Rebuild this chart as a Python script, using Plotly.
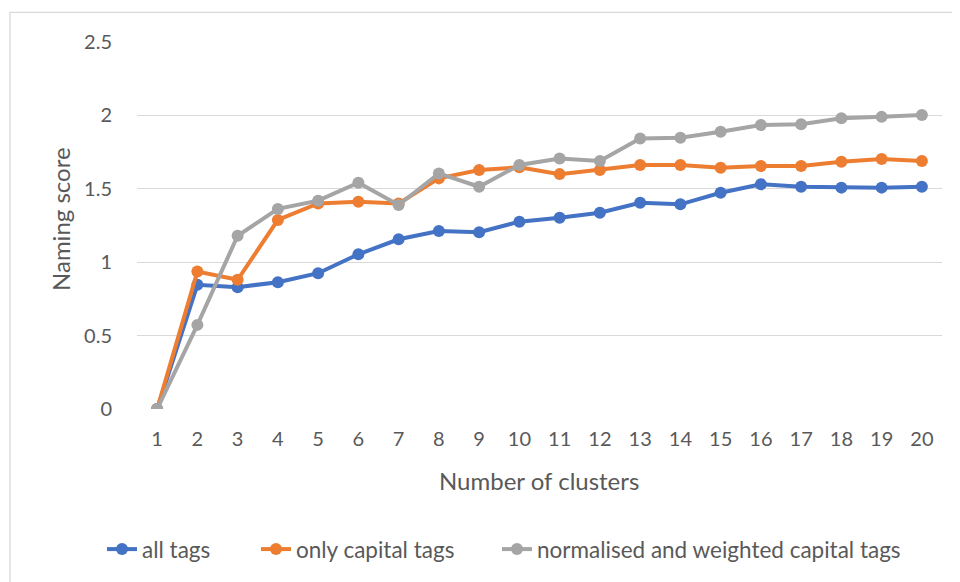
import plotly.graph_objects as go

clusters = list(range(1, 21))
all_tags = [0, 0.846, 0.83, 0.864, 0.925, 1.054, 1.156, 1.213, 1.204, 1.276,
            1.303, 1.337, 1.405, 1.394, 1.473, 1.531, 1.514, 1.508, 1.508, 1.514]
only_capital = [0, 0.936, 0.88, 1.288, 1.40, 1.412, 1.40, 1.571, 1.628, 1.646,
                1.60, 1.628, 1.662, 1.662, 1.644, 1.655, 1.655, 1.684, 1.703, 1.689]
norm_weighted = [0, 0.573, 1.18, 1.363, 1.419, 1.541, 1.39, 1.605, 1.514, 1.662,
                 1.707, 1.689, 1.843, 1.848, 1.889, 1.934, 1.939, 1.98, 1.99, 2.002]

series = [
    ("all tags", all_tags, "#4472C4"),
    ("only capital tags", only_capital, "#ED7D31"),
    ("normalised and weighted capital tags", norm_weighted, "#A5A5A5"),
]
legend_text_start = [144, 298, 539]  # screen px where each legend label begins

FONT = "Lato"
TXT = "#595959"

# page body has an 8px offset; screen coordinates below are shifted by it
OFF = 8
W, H = 960, 582
PL, PR, PT, PB = 137 - OFF, 942 - OFF, 41.7 - OFF, 409.3 - OFF  # plot area in figure px
L, R, T, B = PL, W - PR, PT, H - PB
pw, ph = PR - PL, PB - PT

def px_x(x):
    return (x - OFF - PL) / pw

def px_y(y):
    return (PB - (y - OFF)) / ph

fig = go.Figure()
legend_ids = ["legend", "legend2", "legend3"]
for (name, vals, col), lid in zip(series, legend_ids):
    fig.add_trace(go.Scatter(
        x=clusters, y=vals, name=name, mode="lines+markers",
        line=dict(color=col, width=4),
        marker=dict(color=col, size=12),
        legend=lid,
    ))

legend_layout = {}
for lid, tx in zip(legend_ids, legend_text_start):
    legend_layout[lid] = dict(
        orientation="h", x=px_x(tx - 42), y=px_y(550), xanchor="left", yanchor="middle",
        font=dict(size=22.5, color=TXT), bgcolor="rgba(0,0,0,0)",
    )

fig.update_layout(
    width=W, height=H,
    margin=dict(l=L, r=R, t=T, b=B),
    paper_bgcolor="white", plot_bgcolor="white",
    font=dict(family=FONT, color=TXT, size=20),
    showlegend=True,
    xaxis=dict(
        range=[0.5, 20.5], tickmode="array", tickvals=clusters,
        ticktext=[str(c) for c in clusters],
        showgrid=False, zeroline=False, showline=False,
        ticks="outside", ticklen=12, tickcolor="rgba(0,0,0,0)",
        tickfont=dict(size=20, color=TXT),
    ),
    yaxis=dict(
        range=[0, 2.5], tickmode="array", tickvals=[0, 0.5, 1, 1.5, 2, 2.5],
        ticktext=["0", "0.5", "1", "1.5", "2", "2.5"],
        showgrid=True, gridcolor="#D9D9D9", gridwidth=1.3, zeroline=False, showline=False,
        ticks="outside", ticklen=20, tickcolor="rgba(0,0,0,0)",
        tickfont=dict(size=20, color=TXT),
    ),
    annotations=[
        dict(text="Naming score", xref="paper", yref="paper", x=px_x(60), y=px_y(219),
             textangle=-90, showarrow=False, xanchor="center", yanchor="middle",
             font=dict(size=24, color=TXT)),
        dict(text="Number of clusters", xref="paper", yref="paper", x=px_x(539), y=px_y(481),
             showarrow=False, xanchor="center", yanchor="middle",
             font=dict(size=24, color=TXT)),
    ],
    shapes=[
        dict(type="rect", xref="paper", yref="paper",
             x0=px_x(10), y0=px_y(620), x1=px_x(990), y1=px_y(12),
             line=dict(color="#D9D9D9", width=1.3), layer="below"),
    ],
    **legend_layout,
)

fig.write_html("out.html")
